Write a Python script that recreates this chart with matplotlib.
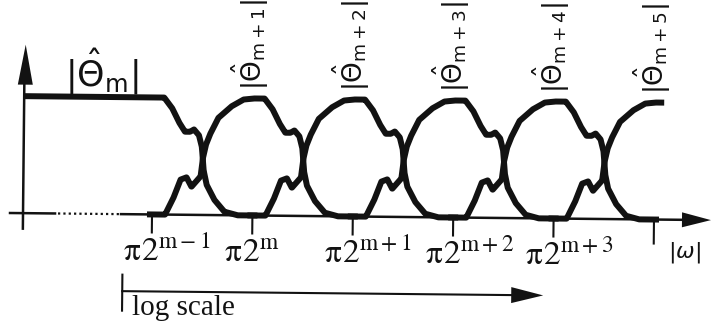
import numpy as np
import matplotlib
matplotlib.use("Agg")
import matplotlib.pyplot as plt
import matplotlib.transforms as mtransforms

# ---------------- data ----------------
band_names = ["m", "m+1", "m+2", "m+3", "m+4", "m+5"]
band_centers = [0, 1, 2, 3, 4, 5]            # octaves above pi*2^(m-1)
tick_positions = [0, 1, 2, 3, 4, 5]
tick_exponents = ["m-1", "m", "m+1", "m+2", "m+3", None]

# right (falling) edge of a band: distance from centre (octaves) -> |Theta|
fall_dist = [0.00, 0.11, 0.19, 0.26, 0.32, 0.37, 0.41, 0.46, 0.49, 0.51, 0.54, 0.62, 0.72, 0.85, 1.05]
fall_mag = [1.00, 1.00, 0.91, 0.79, 0.71, 0.71, 0.73, 0.68, 0.58, 0.38, 0.26, 0.13, 0.03, 0.00, 0.00]
# left (rising) edge of a band: distance below centre (octaves) -> |Theta|
rise_dist = [0.00, 0.10, 0.22, 0.35, 0.43, 0.47, 0.50, 0.52, 0.56, 0.61, 0.66, 0.72, 0.79, 0.87, 1.05]
rise_mag = [1.00, 0.99, 0.93, 0.83, 0.69, 0.60, 0.48, 0.33, 0.29, 0.24, 0.32, 0.30, 0.14, 0.00, 0.00]
last_band_end = 0.09     # the last band is drawn only slightly past its centre
tail = 1.05

# ---------------- layout ----------------
W, H = 711, 335
X0, DX = 152.0, 100.4      # pixel of octave 0, pixels per octave
BASE, AMP = 216.5, 117.0   # pixel row of |Theta|=0, pixels per unit
INK = "#121212"


def px(p):
    return (p - X0) / DX


def py(p):
    return (BASE - p) / AMP


fig = plt.figure(figsize=(W / 100, H / 100), dpi=100)
ax = fig.add_axes([0, 0, 1, 1])
ax.set_xlim(px(0), px(W))
ax.set_ylim(py(H), py(0))
ax.axis("off")

# the scanned figure is rotated slightly clockwise
rot = mtransforms.Affine2D().rotate_deg_around(355, H - BASE, -0.58)
T = ax.transData + rot
kw = dict(transform=T, clip_on=False)

# ---------------- curves ----------------
for k in band_centers:
    lo = px(23) if k == band_centers[0] else k - tail
    hi = k + last_band_end if k == band_centers[-1] else k + tail
    x = np.linspace(lo, hi, 800)
    d = x - k
    mag = np.where(d >= 0, np.interp(d, fall_dist, fall_mag),
                   np.interp(-d, rise_dist, rise_mag))
    if k == band_centers[0]:
        mag = np.where(d < 0, 1.0, mag)
    ax.plot(x, mag, color=INK, lw=4.3, solid_capstyle="butt",
            solid_joinstyle="round", **kw)

# ---------------- axes ----------------
# y axis with arrow
ax.plot([px(23), px(23)], [py(232), py(86)], color=INK, lw=1.8, **kw)
ax.fill([px(16.5), px(31.5), px(24)], [py(88), py(88), py(48)], color=INK,
        lw=0, **kw)
# x axis: solid, dotted, solid + arrow
ax.plot([px(10), px(55)], [0, 0], color=INK, lw=1.8, **kw)
ax.plot([px(58), px(120)], [0, 0], color=INK, lw=1.6,
        linestyle=(0, (1, 1.4)), **kw)
ax.plot([px(121), px(686)], [0, 0], color=INK, lw=1.8, **kw)
ax.fill([px(682), px(682), px(711)], [py(BASE - 7.5), py(BASE + 7.5), 0],
        color=INK, lw=0, **kw)

# ticks and labels
for t, e in zip(tick_positions, tick_exponents):
    length = 24 if e is None else 18
    ax.plot([t, t], [0, py(BASE + length)], color=INK, lw=1.5, **kw)
    if e is not None:
        ax.text(t - 0.28, py(263), r"$\mathrm{\pi\!\:2^{" + e + "}}$",
                fontsize=24, math_fontfamily="stix", color=INK,
                ha="left", va="baseline", **kw)
ax.text(px(668), py(254), r"$|\omega|$", fontsize=16, color=INK,
        ha="left", va="baseline", **kw)

# band labels
ax.text(px(64), py(89), r"$|\hat{\Theta}_{\mathrm{" + band_names[0] + "}}|$",
        fontsize=25, color=INK, ha="left", va="baseline", **kw)
for k, name in zip(band_centers[1:], band_names[1:]):
    ax.text(k - 0.03, py(91), r"$|\hat{\Theta}_{\mathrm{" + name + "}}|$",
            fontsize=19, rotation=90, color=INK, ha="center", va="bottom",
            **kw)

# log scale arrow
ax.plot([px(123), px(123)], [py(277), py(313)], color=INK, lw=1.5, **kw)
ax.plot([px(123), px(516)], [py(293.5), py(293.5)], color=INK, lw=1.5, **kw)
ax.fill([px(512), px(512), px(544)], [py(285.5), py(301.5), py(293.5)],
        color=INK, lw=0, **kw)
ax.text(px(133), py(317), "log scale", family="Liberation Serif",
        fontsize=21, color=INK, ha="left", va="baseline", **kw)

fig.savefig("out.png", dpi=100)
